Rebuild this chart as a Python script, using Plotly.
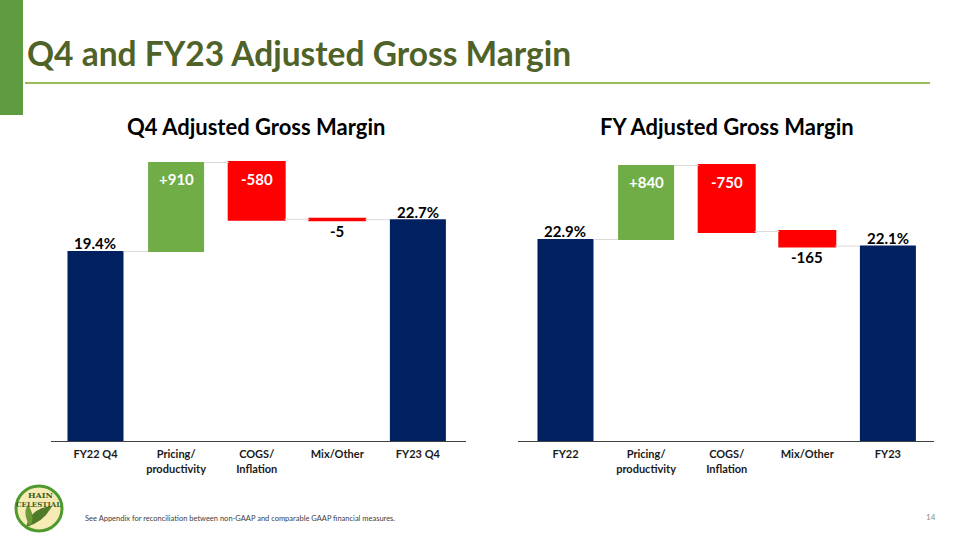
import plotly.graph_objects as go

# ---------------- data ----------------
q4_categories = ["FY22 Q4", "Pricing/<br>productivity", "COGS/<br>Inflation", "Mix/Other", "FY23 Q4"]
q4_start_pct = 19.4
q4_changes_bps = [910, -580, -5]
q4_end_pct = 22.7

fy_categories = ["FY22", "Pricing/<br>productivity", "COGS/<br>Inflation", "Mix/Other", "FY23"]
fy_start_pct = 22.9
fy_changes_bps = [840, -750, -165]
fy_end_pct = 22.1

measures = ["absolute", "relative", "relative", "relative", "total"]

NAVY = "#002060"
GREEN = "#70AD47"
RED = "#FF0000"
FONT = "Lato"
W, H = 960, 540


def px_x(x):
    return x / W


def px_y(y):
    return 1 - y / H


fig = go.Figure()


def add_waterfall(cats, start, changes, end_label, xa, ya):
    vals = [start] + [c / 100 for c in changes] + [None]
    xs = list(range(len(cats)))
    fig.add_trace(go.Waterfall(
        x=xs, y=vals, measure=measures, width=0.695,
        xaxis=xa, yaxis=ya,
        increasing=dict(marker=dict(color=GREEN)),
        decreasing=dict(marker=dict(color=RED, line=dict(color=RED, width=2))),
        totals=dict(marker=dict(color=NAVY)),
        connector=dict(line=dict(color="#D9D9D9", width=1), mode="between"),
        textinfo="none", hoverinfo="skip", showlegend=False,
    ))
    # labels
    level = start
    anns = []
    anns.append(dict(x=0, y=start, text=f"<b>{start:.1f}%</b>", yshift=8,
                     font=dict(color="#000000")))
    for i, c in enumerate(changes, start=1):
        top = level + c / 100 if c > 0 else level
        bottom = level if c > 0 else level + c / 100
        big = abs(c) >= 300
        if big:
            anns.append(dict(x=i, y=top, text=f"<b>{c:+d}</b>", yshift=-16,
                             font=dict(color="#FFFFFF")))
        else:
            anns.append(dict(x=i, y=bottom, text=f"<b>{c:+d}</b>", yshift=-11,
                             font=dict(color="#000000")))
        level += c / 100
    anns.append(dict(x=len(cats) - 1, y=level, text=f"<b>{end_label:.1f}%</b>", yshift=8,
                     font=dict(color="#000000")))
    for a in anns:
        a["font"].update(family=FONT, size=15)
        fig.add_annotation(xref=xa, yref=ya, showarrow=False, yanchor="middle", **a)


add_waterfall(q4_categories, q4_start_pct, q4_changes_bps, q4_end_pct, "x", "y")
add_waterfall(fy_categories, fy_start_pct, fy_changes_bps, fy_end_pct, "x2", "y2")

base_y = 441
top_y = 155
q4_scale = 9.77
fy_scale = 8.80

xcommon = dict(showgrid=False, zeroline=False, showline=True, linecolor="#404040", linewidth=1,
               ticks="", ticklabelstandoff=3,
               tickfont=dict(family=FONT, size=11, color="#1A1A1A", weight="bold"),
               fixedrange=True)
ycommon = dict(visible=False, showgrid=False, zeroline=False, fixedrange=True,
               domain=[px_y(base_y), px_y(top_y)])

fig.update_layout(
    width=W, height=H, margin=dict(l=0, r=0, t=0, b=0),
    paper_bgcolor="white", plot_bgcolor="white",
    xaxis=dict(**xcommon, domain=[px_x(51), px_x(466)], range=[-0.552, 4.597],
               tickvals=list(range(5)), ticktext=[f"<b>{c}</b>" for c in q4_categories], anchor="y"),
    yaxis=dict(**ycommon, range=[0, (base_y - top_y) / q4_scale], anchor="x"),
    xaxis2=dict(**xcommon, domain=[px_x(518), px_x(934)], range=[-0.589, 4.572],
                tickvals=list(range(5)), ticktext=[f"<b>{c}</b>" for c in fy_categories], anchor="y2"),
    yaxis2=dict(**ycommon, range=[0, (base_y - top_y) / fy_scale], anchor="x2"),
)

# ---------------- slide decoration ----------------
shapes = [
    dict(type="rect", xref="paper", yref="paper", x0=0, x1=px_x(23), y0=px_y(115), y1=1,
         fillcolor="#5E9B41", line=dict(width=0), layer="below"),
    dict(type="line", xref="paper", yref="paper", x0=px_x(25), x1=px_x(930), y0=px_y(83), y1=px_y(83),
         line=dict(color="#9BBB59", width=2)),
    # logo
    dict(type="circle", xref="paper", yref="paper", x0=px_x(16), x1=px_x(62), y0=px_y(531), y1=px_y(486),
         fillcolor="#F7EBB5", line=dict(color="#4E9A2F", width=3)),
    dict(type="path", xref="paper", yref="paper",
         path=f"M {px_x(26)} {px_y(527)} Q {px_x(30)} {px_y(508)} {px_x(52)} {px_y(506)} Q {px_x(44)} {px_y(522)} {px_x(26)} {px_y(527)} Z",
         fillcolor="#4F7A2A", line=dict(width=0)),
    dict(type="path", xref="paper", yref="paper",
         path=f"M {px_x(30)} {px_y(527)} Q {px_x(22)} {px_y(512)} {px_x(28)} {px_y(505)} Q {px_x(36)} {px_y(516)} {px_x(30)} {px_y(527)} Z",
         fillcolor="#6E9A3A", line=dict(width=0)),
]
fig.update_layout(shapes=shapes)

fig.add_annotation(xref="paper", yref="paper", x=px_x(25), y=px_y(53), xanchor="left", yanchor="middle",
                   text="<b>Q4 and FY23 Adjusted Gross Margin</b>", showarrow=False,
                   font=dict(family=FONT, size=33.5, color="#4F6228"))
fig.add_annotation(xref="paper", yref="paper", x=px_x(256), y=px_y(127), xanchor="center", yanchor="middle",
                   text="<b>Q4 Adjusted Gross Margin</b>", showarrow=False,
                   font=dict(family=FONT, size=22, color="#000000"))
fig.add_annotation(xref="paper", yref="paper", x=px_x(727), y=px_y(127), xanchor="center", yanchor="middle",
                   text="<b>FY Adjusted Gross Margin</b>", showarrow=False,
                   font=dict(family=FONT, size=22, color="#000000"))
fig.add_annotation(xref="paper", yref="paper", x=px_x(83), y=px_y(518), xanchor="left", yanchor="middle",
                   text="See Appendix for reconciliation between non-GAAP and comparable GAAP financial measures.",
                   showarrow=False, font=dict(family=FONT, size=7.5, color="#404040"))
fig.add_annotation(xref="paper", yref="paper", x=px_x(938), y=px_y(517), xanchor="right", yanchor="middle",
                   text="14", showarrow=False, font=dict(family=FONT, size=8, color="#8C8C8C"))
fig.add_annotation(xref="paper", yref="paper", x=px_x(40), y=px_y(495), xanchor="center", yanchor="middle",
                   text="<b>HAIN</b>", showarrow=False,
                   font=dict(family="DejaVu Serif", size=8, color="#3D5E22"))
fig.add_annotation(xref="paper", yref="paper", x=px_x(38), y=px_y(504), xanchor="center", yanchor="middle",
                   text="<b>CELESTIAL</b>", showarrow=False,
                   font=dict(family="DejaVu Serif", size=7, color="#3D5E22"))

fig.write_html("out.html", config={"displayModeBar": False},
               post_script="document.body.style.margin='0';")
